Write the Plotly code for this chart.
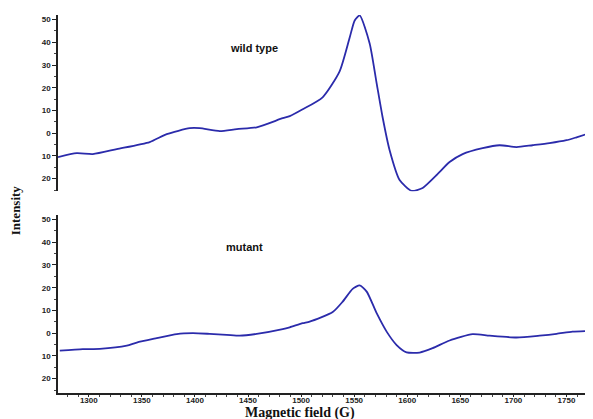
import plotly.graph_objects as go

# Wild type spectrum (field in G, intensity)
wt_field = [1271, 1288.7, 1303.8, 1326.4, 1357.4, 1373.4, 1395.1, 1404.5, 1423.4, 1439.4,
            1458.2, 1482.7, 1489.3, 1501.5, 1520.3, 1536.3, 1545.8, 1550.5, 1555.2, 1564.6,
            1571.2, 1576.8, 1583.4, 1592.8, 1604.1, 1614.5, 1627.7, 1639.9, 1652.2, 1671.0,
            1687.0, 1703.0, 1718.0, 1734.0, 1750.0, 1759.5, 1771.7]
wt_int = [-10.5, -8.8, -9.2, -7.0, -3.9, -0.4, 2.2, 2.2, 0.9, 1.8,
          2.6, 6.6, 7.5, 10.5, 15.8, 27.2, 42.1, 49.6, 51.8, 39.5,
          21.9, 7.0, -7.5, -20.6, -25.4, -24.1, -18.4, -12.7, -9.2, -6.6,
          -5.3, -6.1, -5.3, -4.4, -3.1, -1.8, 0.0]

# Mutant spectrum
mu_field = [1272.7, 1294.4, 1310.4, 1335.8, 1345.2, 1364.0, 1382.9, 1397.9, 1413.9, 1429.9,
            1442.2, 1458.2, 1482.7, 1489.3, 1501.5, 1508.1, 1529.8, 1539.2, 1548.6, 1555.2,
            1561.8, 1571.2, 1580.6, 1590.0, 1599.4, 1611.7, 1623.9, 1639.9, 1661.6, 1677.6,
            1703.0, 1724.7, 1740.7, 1755.7, 1771.7]
mu_int = [-7.7, -7.0, -6.9, -5.5, -4.1, -2.2, -0.4, 0.0, -0.3, -0.7,
          -1.1, -0.3, 1.8, 2.6, 4.4, 5.1, 9.3, 13.9, 19.5, 21.0,
          18.3, 8.8, 0.7, -5.2, -8.4, -8.5, -6.6, -3.2, -0.4, -1.1,
          -1.9, -1.1, -0.3, 0.7, 1.0]

y_tickvals = [-20, -10, 0, 10, 20, 30, 40, 50]
y_ticktext = ["20", "10", "0", "10", "20", "30", "40", "50"]
x_tickvals = [1300, 1350, 1400, 1450, 1500, 1550, 1600, 1650, 1700, 1750]
x_ticktext = [str(v) for v in x_tickvals]

line_color = "#2b2bab"
tick_font = dict(family="Liberation Sans", size=8, color="#222", weight="bold")

fig = go.Figure()
fig.add_trace(go.Scatter(x=wt_field, y=wt_int, mode="lines", xaxis="x", yaxis="y",
                         line=dict(color=line_color, width=1.8, shape="spline", smoothing=0.6)))
fig.add_trace(go.Scatter(x=mu_field, y=mu_int, mode="lines", xaxis="x2", yaxis="y2",
                         line=dict(color=line_color, width=1.8, shape="spline", smoothing=0.6)))

yaxis_common = dict(
    tickvals=y_tickvals, ticktext=y_ticktext, tickfont=tick_font,
    showline=True, linecolor="#222", linewidth=1.5, ticks="outside", ticklen=4,
    tickcolor="#222", showgrid=False, zeroline=False, automargin=False,
    minor=dict(ticks="outside", ticklen=2, dtick=5, tick0=0, tickcolor="#444", showgrid=False),
)

fig.update_layout(
    width=585, height=411,
    margin=dict(l=50, r=0, t=7, b=26),
    paper_bgcolor="white", plot_bgcolor="white",
    showlegend=False,
    xaxis=dict(domain=[0, 1], range=[1271, 1775], anchor="y", showticklabels=False,
               showline=False, showgrid=False, zeroline=False, ticks=""),
    yaxis=dict(domain=[0.534, 1.0], range=[-25.5, 52], anchor="x", **yaxis_common),
    xaxis2=dict(domain=[0, 1], range=[1271, 1775], anchor="y2",
                tickvals=x_tickvals, ticktext=x_ticktext, tickfont=tick_font,
                showline=True, linecolor="#222", linewidth=1.5, ticks="outside", ticklen=2,
                ticklabelstandoff=-3,
                tickcolor="#222", showgrid=False, zeroline=False, automargin=False,
                minor=dict(ticks="outside", ticklen=2, dtick=10, tick0=1300, tickcolor="#444",
                           showgrid=False)),
    yaxis2=dict(domain=[0, 0.471], range=[-26.3, 52], anchor="x2", **yaxis_common),
    annotations=[
        dict(text="wild type", x=1456, y=37.7, xref="x", yref="y", showarrow=False,
             font=dict(family="Liberation Sans", size=11, color="#111", weight="bold")),
        dict(text="mutant", x=1447, y=38, xref="x2", yref="y2", showarrow=False,
             font=dict(family="Liberation Sans", size=11, color="#111", weight="bold")),
        dict(text="Intensity", x=-0.080, y=0.484, xref="paper", yref="paper", showarrow=False,
             textangle=-90, xanchor="center", yanchor="middle",
             font=dict(family="Liberation Serif", size=13, color="#111", weight="bold")),
        dict(text="Magnetic field (G)", x=0.452, y=-0.052, xref="paper", yref="paper",
             showarrow=False, xanchor="center", yanchor="middle",
             font=dict(family="Liberation Serif", size=14, color="#111", weight="bold")),
    ],
)

fig.write_html("out.html")
